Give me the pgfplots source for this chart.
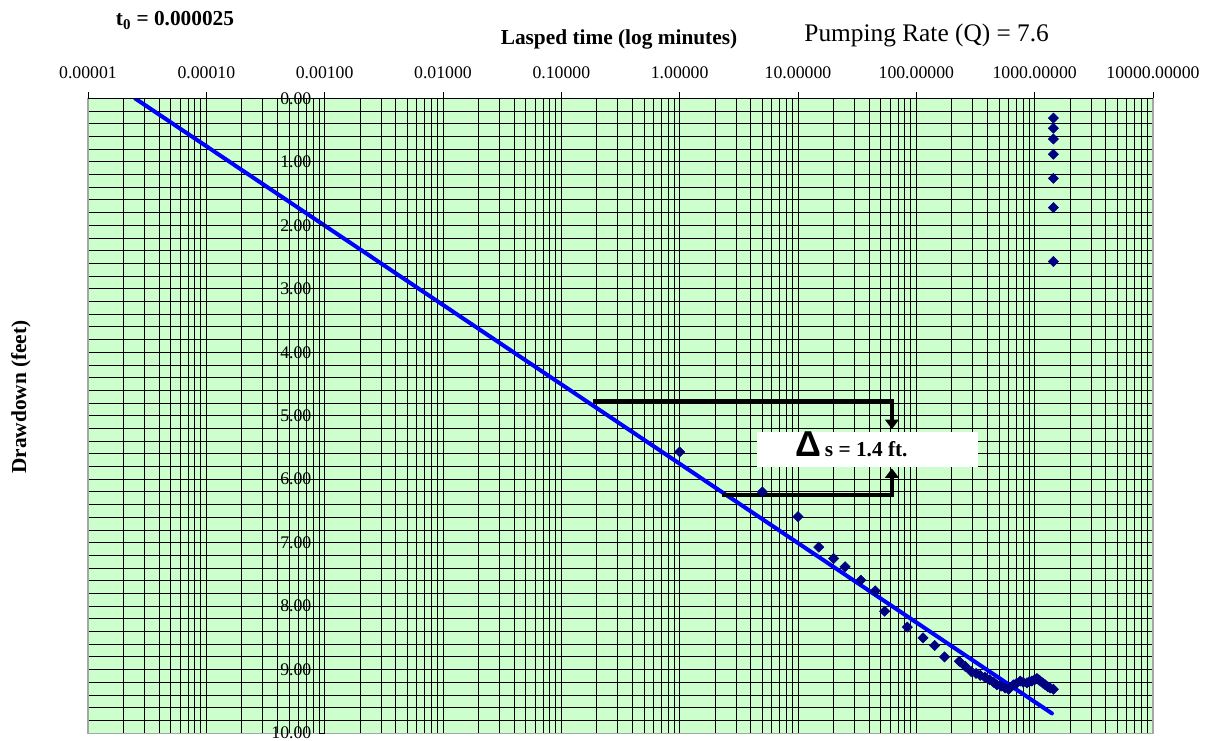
\documentclass[border=0pt]{standalone}
\usepackage{fontspec}
\setmainfont{Liberation Serif}
\newfontfamily\arialfont{Liberation Sans}
\usepackage{pgfplots}
\pgfplotsset{compat=1.18}
\usetikzlibrary{arrows.meta}
\definecolor{bg}{HTML}{CCFFCC}
\definecolor{navy}{HTML}{000080}
\begin{document}
\begin{tikzpicture}
\useasboundingbox (-66pt,-5.25pt) rectangle (842.25pt,549.8pt);
\begin{axis}[
  at={(0,0)}, anchor=south west,
  scale only axis, width=798.75pt, height=476pt,
  xmode=log, xmin=1e-5, xmax=1e4, ymin=0, ymax=10, y dir=reverse,
  axis background/.style={fill=bg},
  axis line style={draw=gray!70, line width=0.8pt},
  xtick={1e-5,1e-4,1e-3,1e-2,1e-1,1,10,100,1000,10000},
  xticklabels={0.00001,0.00010,0.00100,0.01000,0.10000,1.00000,10.00000,100.00000,1000.00000,10000.00000},
  xtick pos=right, xticklabel pos=right,
  xticklabel style={yshift=7pt},
  tick align=outside, major tick length=4.5pt, minor tick length=0pt,
  xtick style={black, line width=0.7pt},
  ytick={0,1,...,10},
  yticklabels={0.00,1.00,2.00,3.00,4.00,5.00,6.00,7.00,8.00,9.00,10.00},
  ytick style={draw=none},
  yticklabel style={anchor=east, xshift=175.5pt},
  minor y tick num=4,
  xmajorgrids, xminorgrids, ymajorgrids, yminorgrids,
  major grid style={black, line width=0.7pt},
  minor grid style={black, line width=0.7pt},
  tick label style={font=\fontsize{13.3}{15}\selectfont},
  /pgf/number format/assume math mode=true,
]
\addplot[blue, line width=3pt, line cap=round] coordinates {(2.5e-5,0) (1400,9.69)};
\addplot[only marks, mark=square*, mark size=2.7pt, color=navy, mark options={rotate=45, fill=navy, draw=navy}] coordinates {
(1,5.57) (5,6.20) (10,6.59) (15,7.07) (20,7.25) (25,7.38) (34,7.59) (45,7.76)
(54,8.08) (84,8.33) (114,8.50) (143,8.62) (173,8.80) (231,8.87) (259,8.95)
(291,9.03) (320,9.06) (347,9.09) (380,9.12) (416,9.16) (450,9.20) (479,9.24)
(520,9.26) (563,9.29) (603,9.31) (661,9.24) (700,9.22) (755,9.18) (800,9.20)
(860,9.21) (900,9.19) (947,9.18) (1000,9.16) (1044,9.14) (1080,9.16) (1115,9.18)
(1170,9.21) (1230,9.24) (1290,9.27) (1352,9.29) (1440,9.31)
(1440,0.31) (1440,0.47) (1440,0.64) (1440,0.88) (1440,1.26) (1440,1.72) (1440,2.57)
};
% y axis line at 0.001
\draw[black, line width=0.8pt] (axis cs:1e-3,0) -- (axis cs:1e-3,10);
\pgfplotsinvokeforeach{0,1,2,3,4,5,6,7,8,9,10}{\draw[black, line width=0.7pt] ([xshift=-4.5pt]axis cs:1e-3,#1) -- (axis cs:1e-3,#1);}
\draw[black, line width=0.8pt] (axis cs:1e-5,0) -- (axis cs:1e4,0);
% annotation
\fill[white] (axis cs:4.52,5.26) rectangle (axis cs:331,5.81);
\draw[black, line width=3pt, -{Triangle[width=10pt,length=7pt]}] (axis cs:0.186,4.77) -- (axis cs:62.2,4.77) -- (axis cs:62.2,5.21);
\draw[black, line width=3pt, -{Triangle[width=10pt,length=7pt]}] (axis cs:2.28,6.25) -- (axis cs:62.2,6.25) -- (axis cs:62.2,5.83);
\node[anchor=base, inner sep=0pt] at (axis cs:28.4,5.64) {{\arialfont\bfseries\fontsize{27}{29}\selectfont \char"0394} {\bfseries\fontsize{16}{18}\selectfont s = 1.4 ft.}};
\end{axis}
\node[anchor=base, font=\bfseries\fontsize{16}{18}\selectfont] at (65.25pt,530.3pt) {t\textsubscript{0} = 0.000025};
\node[anchor=base, font=\bfseries\fontsize{16}{18}\selectfont] at (398.25pt,516.6pt) {Lasped time (log minutes)};
\node[anchor=base, font=\fontsize{19}{21}\selectfont] at (629pt,518.5pt) {Pumping Rate (Q) = 7.6};
\node[rotate=90, font=\bfseries\fontsize{16}{18}\selectfont] at (-50.25pt,252pt) {Drawdown (feet)};
\end{tikzpicture}
\end{document}
